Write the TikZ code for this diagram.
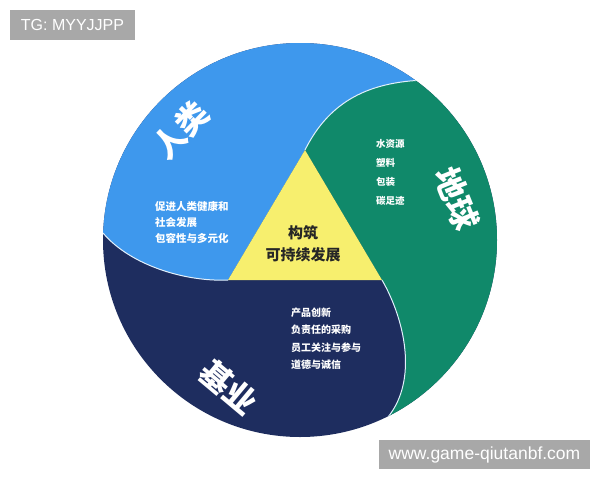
\documentclass[tikz,border=0pt]{standalone}
\usepackage{fontspec}
\setmainfont{Liberation Sans}
\newfontfamily\cjk{Noto Sans CJK SC}
\definecolor{humanblue}{HTML}{3E98ED}
\definecolor{planetgreen}{HTML}{10896A}
\definecolor{bizNavy}{HTML}{1E2D5F}
\definecolor{coreyellow}{HTML}{F7EF6E}
\definecolor{tagGray}{HTML}{A8A8A8}

\begin{document}
\begin{tikzpicture}[x=1pt, y=-1pt,
		title/.style = {text=white, font=\cjk\bfseries\fontsize{32}{32}\selectfont, inner sep=0pt},
		items/.style = {text=white, align=left, anchor=north west, inner sep=0pt},
		tag/.style = {fill=tagGray, text=white, inner sep=0pt},
		seam/.style = {draw=white!85!humanblue, line width=1pt}]
		\useasboundingbox[fill=white] (0,0) rectangle (600,480);
		\coordinate (O) at (300,240);
		\coordinate (T) at (305,150);
		\coordinate (L) at (228,280);
		\coordinate (R) at (382,280);
		\coordinate (A) at (103,233);
		\coordinate (B) at (425,80);
		\coordinate (C) at (388,417);
		\fill[bizNavy] (O) circle[radius=197];
		\begin{scope}
			\clip (O) circle[radius=197];
			\fill[humanblue] (L) .. controls (185,282) and (130,265) .. (A) -- (60,236) -- (60,-10)
				-- (470,-10) -- (450,48) -- (B) .. controls (370,82) and (330,100) .. (T) -- cycle;
			\fill[planetgreen] (T) .. controls (330,100) and (370,82) .. (B) -- (450,48) -- (620,20)
				-- (620,480) -- (410,460) -- (C) .. controls (418,380) and (405,320) .. (R) -- cycle;
			\draw[seam] (T) .. controls (330,100) and (370,82) .. (B);
			\draw[seam] (L) .. controls (185,282) and (130,265) .. (A);
			\draw[seam] (R) .. controls (405,320) and (418,380) .. (C);
		\end{scope}
		\fill[coreyellow] (T) -- (L) -- (R) -- cycle;
		\node[title, rotate=46] (human) at (181,130) {人类};
		\node[title, rotate=-68] (planet) at (457,199) {地球};
		\node[title, rotate=-40] (business) at (229,387) {基业};
		\node[align=center, inner sep=0pt, text=black!85, font=\cjk\bfseries\fontsize{15}{22}\selectfont] (core) at (303,244) {构筑\\可持续发展};
		\node[items, font=\cjk\bfseries\fontsize{10.5}{16}\selectfont] (humanitems) at (155,201) {促进人类健康和\\社会发展\\包容性与多元化};
		\node[items, font=\cjk\bfseries\fontsize{9.5}{19}\selectfont] (planetitems) at (376,139.5) {水资源\\塑料\\包装\\碳足迹};
		\node[items, font=\cjk\bfseries\fontsize{10}{17.5}\selectfont] (businessitems) at (291,307.5) {产品创新\\负责任的采购\\员工关注与参与\\道德与诚信};
		\node[tag, font=\fontsize{16}{16}\selectfont, minimum width=125pt, minimum height=30pt] (tg) at (72.5,25) {TG: MYYJJPP};
		\node[tag, font=\fontsize{17.5}{17.5}\selectfont, minimum width=211pt, minimum height=29pt] (site) at (484.5,454.5) {www.game-qiutanbf.com};
\end{tikzpicture}
\end{document}
